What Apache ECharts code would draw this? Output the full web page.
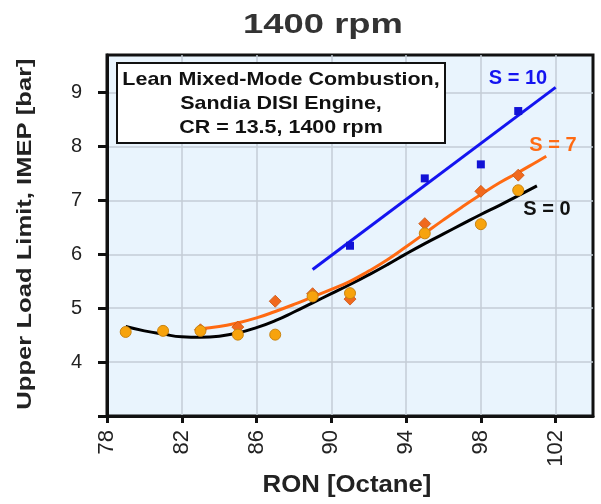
<!DOCTYPE html>
<html>
<head>
<meta charset="utf-8">
<script src="https://cdn.jsdelivr.net/npm/echarts@6/dist/echarts.min.js"></script>
<style>html,body{margin:0;padding:0;background:#fff}#c{width:601px;height:504px}</style>
</head>
<body>
<div id="c"></div>
<script>
// ---- data ----
const xTickVals = [78, 82, 86, 90, 94, 98, 102];
const yTickVals = [3, 4, 5, 6, 7, 8, 9];
const yLabelVals = [4, 5, 6, 7, 8, 9];

// measured points
const ronS0 = [79, 81, 83, 85, 87, 89, 91, 95, 98, 100];
const imepS0 = [4.56, 4.58, 4.58, 4.51, 4.51, 5.22, 5.28, 6.39, 6.56, 7.19];
const ronS7 = [83, 85, 87, 89, 91, 95, 98, 100];
const imepS7 = [4.60, 4.65, 5.13, 5.27, 5.17, 6.57, 7.17, 7.47];
const ronS10 = [91, 95, 98, 100];
const imepS10 = [6.16, 7.41, 7.67, 8.66];

// fit curves
const fitS0X = [79, 80, 81, 82, 83, 84, 85, 86, 87, 88, 89, 90, 91, 92, 93, 94, 95, 96, 97, 98, 99, 100, 101];
const fitS0Y = [4.66, 4.58, 4.52, 4.47, 4.46, 4.48, 4.54, 4.64, 4.77, 4.93, 5.10, 5.27, 5.44, 5.62, 5.81, 6.01, 6.20, 6.38, 6.56, 6.74, 6.91, 7.09, 7.27];
const fitS7X = [83, 84, 85, 86, 87, 88, 89, 90, 91, 92, 93, 94, 95, 96, 97, 98, 99, 100, 101, 101.5];
const fitS7Y = [4.62, 4.66, 4.73, 4.82, 4.94, 5.07, 5.21, 5.35, 5.50, 5.69, 5.90, 6.14, 6.39, 6.64, 6.88, 7.11, 7.33, 7.52, 7.72, 7.82];
const fitS10X = [89, 102];
const fitS10Y = [5.72, 9.10];

const zip = (a, b) => a.map((v, i) => [v, b[i]]);

const FONT = "'Liberation Sans', Arial, sans-serif";
const chart = echarts.init(document.getElementById('c'), null, {renderer: 'canvas'});

chart.setOption({
  animation: false,
  backgroundColor: '#ffffff',
  grid: {
    left: 107, right: 8, top: 55, bottom: 88,
    show: true, backgroundColor: '#e9f4fd', borderColor: '#111', borderWidth: 3
  },
  xAxis: {
    type: 'value', min: 78, max: 104,
    axisLine: {show: true, onZero: false, lineStyle: {color: '#111', width: 3}},
    axisTick: {show: true, length: 7, lineStyle: {color: '#111', width: 3}, customValues: xTickVals},
    axisLabel: {rotate: 90, margin: 14, fontSize: 22, color: '#222', fontFamily: FONT, customValues: xTickVals},
    splitLine: {show: true, lineStyle: {color: '#c3ccd6', width: 1.5}}
  },
  yAxis: {
    type: 'value', min: 3, max: 9.7,
    axisLine: {show: true, onZero: false, lineStyle: {color: '#111', width: 3}},
    axisTick: {show: true, length: 9, lineStyle: {color: '#111', width: 3}, customValues: yTickVals},
    axisLabel: {margin: 25, fontSize: 20, color: '#222', fontFamily: FONT, customValues: yLabelVals},
    splitLine: {show: true, lineStyle: {color: '#c3ccd6', width: 1.5}}
  },
  series: [
    {type: 'line', data: zip(fitS0X, fitS0Y), smooth: true, showSymbol: false, lineStyle: {color: '#000', width: 3}, z: 2},
    {type: 'line', data: zip(fitS7X, fitS7Y), smooth: true, showSymbol: false, lineStyle: {color: '#ff6a12', width: 3}, z: 2},
    {type: 'line', data: zip(fitS10X, fitS10Y), smooth: false, showSymbol: false, lineStyle: {color: '#1414f0', width: 3}, z: 2},
    {type: 'scatter', data: zip(ronS7, imepS7), symbol: 'diamond', symbolSize: 12,
     itemStyle: {color: '#f0691e', borderColor: '#c95410', borderWidth: 0.8, opacity: 1}, z: 3},
    {type: 'scatter', data: zip(ronS0, imepS0), symbol: 'circle', symbolSize: 11,
     itemStyle: {color: '#f7a30d', borderColor: '#c98412', borderWidth: 1, opacity: 1}, z: 4},
    {type: 'scatter', data: zip(ronS10, imepS10), symbol: 'rect', symbolSize: 8,
     itemStyle: {color: '#1212d6', opacity: 1}, z: 4}
  ],
  graphic: [
    {type: 'text', x: 323, y: 25, scaleX: 1.3, z: 10,
     style: {text: '1400 rpm', font: 'bold 28px ' + FONT, fill: '#333', textAlign: 'center', textVerticalAlign: 'middle'}},
    {type: 'text', x: 25, y: 234, rotation: Math.PI / 2, scaleX: 1.28, z: 10,
     style: {text: 'Upper Load Limit, IMEP [bar]', font: 'bold 20px ' + FONT, fill: '#222', textAlign: 'center', textVerticalAlign: 'middle'}},
    {type: 'text', x: 347, y: 486, scaleX: 1.12, z: 10,
     style: {text: 'RON [Octane]', font: 'bold 23px ' + FONT, fill: '#222', textAlign: 'center', textVerticalAlign: 'middle'}},
    {type: 'rect', z: 10, shape: {x: 117, y: 63, width: 328, height: 80},
     style: {fill: '#fff', stroke: '#111', lineWidth: 2}},
    {type: 'text', x: 281, y: 80, scaleX: 1.13, z: 11,
     style: {text: 'Lean Mixed-Mode Combustion,', font: 'bold 19px ' + FONT, fill: '#111', textAlign: 'center', textVerticalAlign: 'middle'}},
    {type: 'text', x: 281, y: 104, scaleX: 1.13, z: 11,
     style: {text: 'Sandia DISI Engine,', font: 'bold 19px ' + FONT, fill: '#111', textAlign: 'center', textVerticalAlign: 'middle'}},
    {type: 'text', x: 281, y: 128, scaleX: 1.13, z: 11,
     style: {text: 'CR = 13.5, 1400 rpm', font: 'bold 19px ' + FONT, fill: '#111', textAlign: 'center', textVerticalAlign: 'middle'}},
    {type: 'text', x: 518, y: 78, z: 10,
     style: {text: 'S = 10', font: 'bold 20px ' + FONT, fill: '#1414f0', textAlign: 'center', textVerticalAlign: 'middle'}},
    {type: 'text', x: 553, y: 145, z: 10,
     style: {text: 'S = 7', font: 'bold 20px ' + FONT, fill: '#ff6a12', textAlign: 'center', textVerticalAlign: 'middle'}},
    {type: 'text', x: 547, y: 209, z: 10,
     style: {text: 'S = 0', font: 'bold 20px ' + FONT, fill: '#111', textAlign: 'center', textVerticalAlign: 'middle'}}
  ]
});
</script>
</body>
</html>
